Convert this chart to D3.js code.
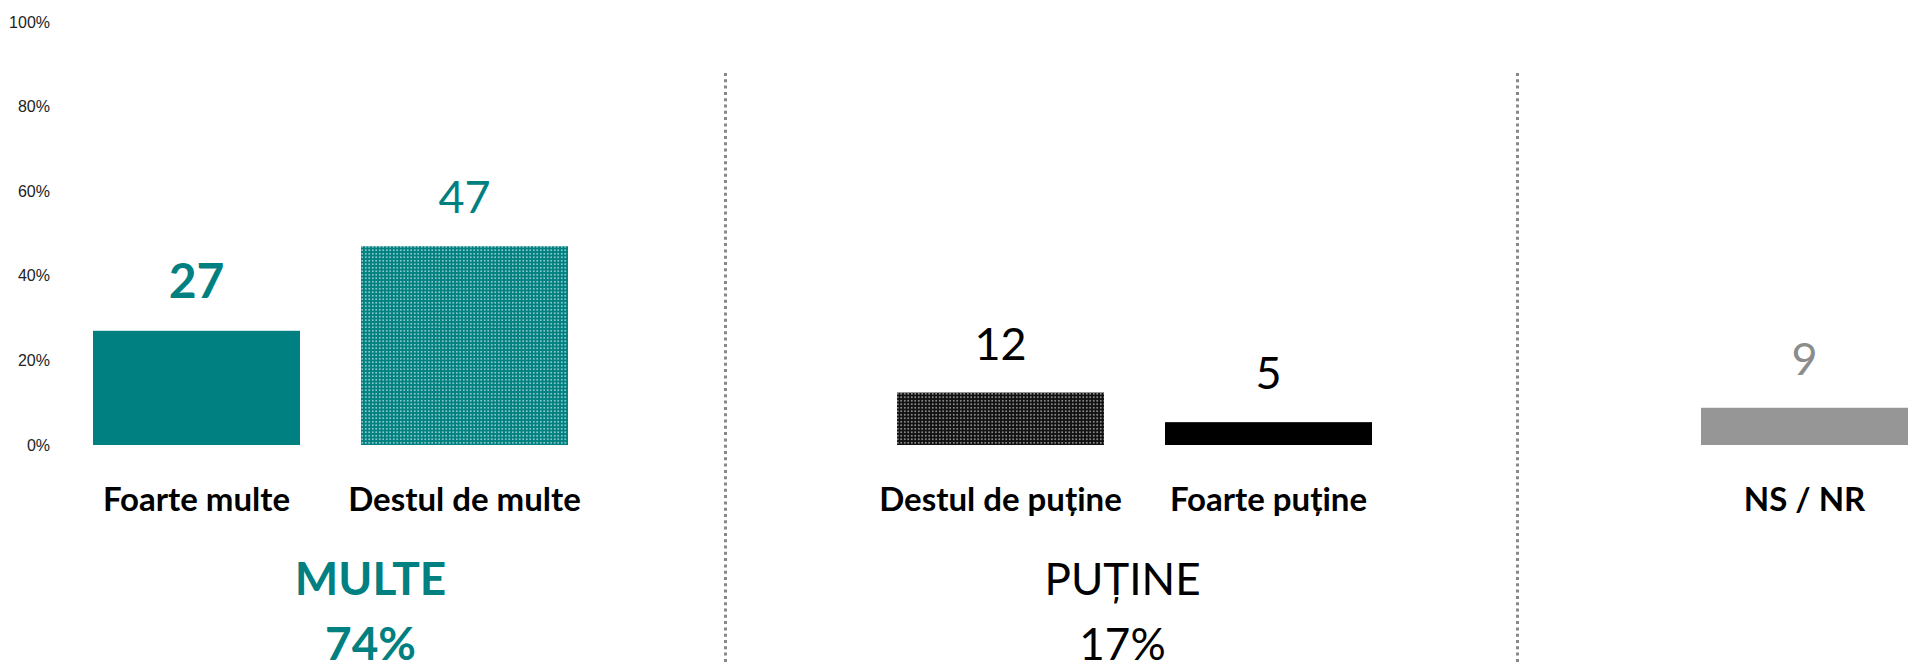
<!DOCTYPE html>
<html>
<head>
<meta charset="utf-8">
<script src="https://cdn.jsdelivr.net/npm/d3@7"></script>
<style>
  body { margin: 0; background: #fff; }
  svg { display: block; }
</style>
</head>
<body>
<svg width="1908" height="665"></svg>
<script>
// data
var categories = ['Foarte multe', 'Destul de multe', 'Destul de puține', 'Foarte puține', 'NS / NR'];
var values = [27, 47, 12.4, 5.4, 8.8];
var slots = ['Foarte multe', 'Destul de multe', 'gap1', 'Destul de puține', 'Foarte puține', 'gap2', 'NS / NR'];
var groupNames = ['MULTE', 'PUȚINE'];
var groupTotals = ['74%', '17%'];
var groupMembers = [['Foarte multe', 'Destul de multe'], ['Destul de puține', 'Foarte puține']];
var dividers = ['gap1', 'gap2'];
var yTicks = [0, 20, 40, 60, 80, 100];

var teal = '#008080';
var fills = ['teal', 'url(#dotsTeal)', 'url(#dotsBlack)', '#000', '#969696'];
var labelColors = [teal, teal, '#000', '#000', '#8c8c8c'];
var labelWeights = ['bold', 'normal', 'normal', 'normal', 'normal'];
var font = 'Lato, "Open Sans", sans-serif';

var svgctrl = d3.select('svg');

// patterns
var defs = svgctrl.append('defs');
var pt = defs.append('pattern').attr('id', 'dotsTeal').attr('patternUnits', 'userSpaceOnUse')
  .attr('width', 3.5).attr('height', 3.5);
pt.append('rect').attr('width', 3.5).attr('height', 3.5).attr('fill', teal);
pt.append('rect').attr('x', 1).attr('y', 1).attr('width', 1.5).attr('height', 1.5).attr('fill', '#fff').attr('opacity', 0.75);

var pb = defs.append('pattern').attr('id', 'dotsBlack').attr('patternUnits', 'userSpaceOnUse')
  .attr('width', 3.5).attr('height', 3.5);
pb.append('rect').attr('width', 3.5).attr('height', 3.5).attr('fill', '#111');
pb.append('rect').attr('x', 1).attr('y', 1).attr('width', 1.5).attr('height', 1.5).attr('fill', '#ddd').attr('opacity', 0.8);

// scales
var x = d3.scaleBand().domain(slots).range([32, 1969]).paddingInner(0.2276).paddingOuter(0.2276);
var y = d3.scaleLinear().domain([0, 100]).range([445, 22]);
var bw = x.bandwidth();

// y axis
var yAxis = d3.axisLeft(y).tickValues(yTicks).tickFormat(function(d) { return d + '%'; })
  .tickSize(0).tickPadding(0);
var ga = svgctrl.append('g').attr('transform', 'translate(50,0)').call(yAxis);
ga.select('.domain').remove();
ga.selectAll('text').attr('font-family', '"Liberation Sans", Arial, sans-serif')
  .attr('font-size', 16).attr('fill', '#222');

// dividers
var nudge = [-7, -19];
dividers.forEach(function(d, i) {
  var cx = x(d) + bw / 2 + nudge[i];
  svgctrl.append('line').attr('x1', cx).attr('x2', cx).attr('y1', 73).attr('y2', 665)
    .attr('stroke', '#888').attr('stroke-width', 3).attr('stroke-dasharray', '3 3.3');
});

// bars
svgctrl.selectAll('rect.bar').data(categories).enter().append('rect')
  .attr('class', 'bar')
  .attr('x', function(d) { return x(d); })
  .attr('y', function(d, i) { return y(values[i]); })
  .attr('width', bw)
  .attr('height', function(d, i) { return y(0) - y(values[i]); })
  .attr('fill', function(d, i) { return fills[i] === 'teal' ? teal : fills[i]; });

// value labels
svgctrl.selectAll('text.val').data(categories).enter().append('text')
  .attr('class', 'val')
  .attr('x', function(d) { return x(d) + bw / 2; })
  .attr('y', function(d, i) { return y(values[i]) - 33; })
  .attr('text-anchor', 'middle')
  .attr('font-family', font)
  .attr('font-size', function(d, i) { return labelWeights[i] === 'bold' ? 48 : 45; })
  .attr('font-weight', function(d, i) { return labelWeights[i]; })
  .attr('fill', function(d, i) { return labelColors[i]; })
  .text(function(d, i) { return Math.round(values[i]); });

// category labels
svgctrl.selectAll('text.cat').data(categories).enter().append('text')
  .attr('class', 'cat')
  .attr('x', function(d) { return x(d) + bw / 2; })
  .attr('y', y(0) + 66)
  .attr('text-anchor', 'middle')
  .attr('font-family', font)
  .attr('font-size', 33)
  .attr('font-weight', 'bold')
  .attr('fill', '#000')
  .text(function(d) { return d; });

// group labels
var gnudge = [40, -12];
groupNames.forEach(function(g, i) {
  var m = groupMembers[i];
  var cx = (x(m[0]) + x(m[m.length - 1]) + bw) / 2 + gnudge[i];
  var bold = i === 0;
  var col = bold ? teal : '#000';
  svgctrl.append('text').attr('x', cx).attr('y', 595).attr('text-anchor', 'middle')
    .attr('font-family', font).attr('font-size', bold ? 46 : 44)
    .attr('font-weight', bold ? 'bold' : 'normal').attr('fill', col).text(g);
  svgctrl.append('text').attr('x', cx).attr('y', 660).attr('text-anchor', 'middle')
    .attr('font-family', font).attr('font-size', bold ? 46 : 44)
    .attr('font-weight', bold ? 'bold' : 'normal').attr('fill', col).text(groupTotals[i]);
});
</script>
</body>
</html>
